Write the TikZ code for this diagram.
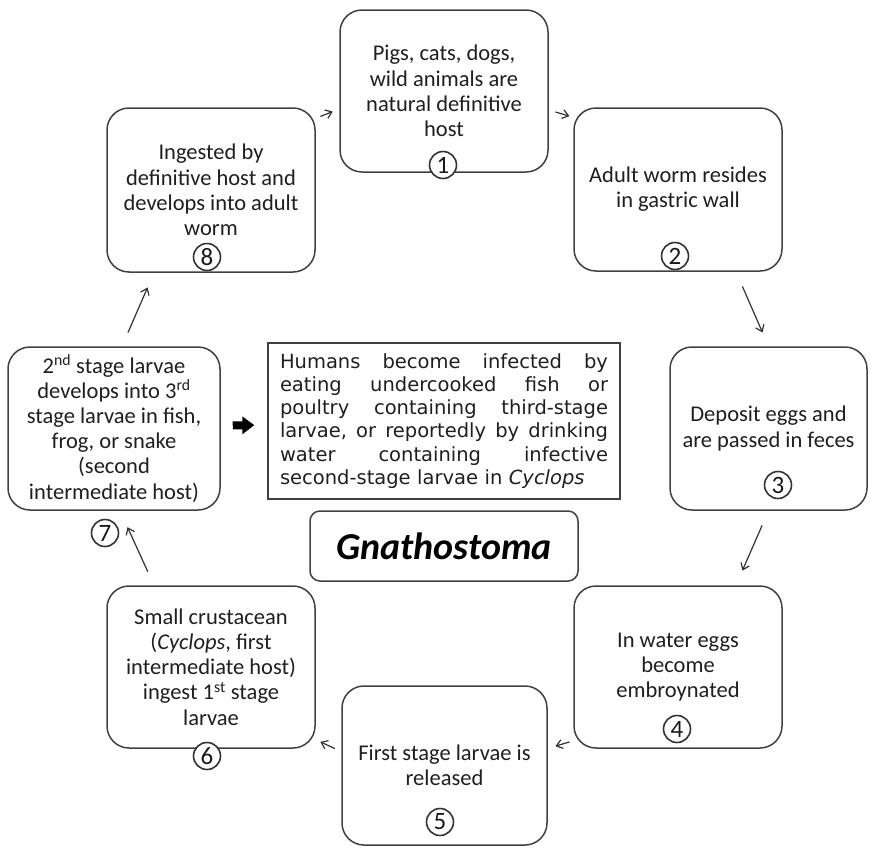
\documentclass[tikz,border=0pt]{standalone}
\usepackage{fontspec}
\setmainfont{Carlito}
\newfontfamily\infofont{DejaVu Sans}
\usepackage{xcolor}
\usetikzlibrary{arrows.meta}
\newcommand{\infoline}[1]{\makebox[328pt][l]{#1}}

\begin{document}
\begin{tikzpicture}[
  x=1pt, y=-1pt,
  stage/.style={draw=black!75, line width=1.5pt, rounded corners=22pt,
                minimum width=208pt, minimum height=162pt, align=center,
                inner sep=2pt, text=black!88, font=\fontsize{22.5}{25.2}\selectfont},
  num/.style={draw=black!80, circle, fill=white, line width=1.6pt,
              minimum size=27pt, inner sep=0pt, text=black!90,
              font=\fontsize{25}{25}\selectfont},
  info/.style={draw=black!75, line width=1.3pt, minimum width=352pt,
               minimum height=156pt, text width=328pt, align=left,
               text=black!88, font=\infofont\fontsize{19.5}{23.2}\selectfont},
  title/.style={draw=black!75, line width=1.5pt, rounded corners=10pt,
                minimum width=268pt, minimum height=70pt, text=black,
                font=\fontsize{38}{40}\selectfont\bfseries\itshape},
  arr/.style={-{Straight Barb[length=6pt,width=9pt]}, line width=1.2pt, draw=black!80},
  fat/.style={-{Triangle[length=12pt,width=17pt]}, line width=8pt},
]
\useasboundingbox (0,0) rectangle (871,847);

\node[stage] (b1) at (444,91) {Pigs, cats, dogs,\\wild animals are\\natural definitive\\host};
\node[stage, minimum height=163pt] (b2) at (678,189.5) {Adult worm resides\\in gastric wall};
\node[stage, minimum width=197pt, minimum height=163pt] (b3) at (768.5,428.5) {Deposit eggs and\\are passed in feces};
\node[stage] (b4) at (678,667) {In water eggs\\become\\embroynated};
\node[stage, minimum width=205pt, minimum height=159pt] (b5) at (444.5,765.5) {First stage larvae is\\released};
\node[stage] (b6) at (211,667) {Small crustacean\\(\textit{Cyclops}, first\\intermediate host)\\ingest 1\textsuperscript{st} stage\\larvae};
\node[stage, minimum width=212pt, minimum height=163pt] (b7) at (114,428.5) {2\textsuperscript{nd} stage larvae\\develops into 3\textsuperscript{rd}\\stage larvae in fish,\\frog, or snake\\(second\\intermediate host)};
\node[stage, minimum height=164pt] (b8) at (211,190) {Ingested by\\definitive host and\\develops into adult\\worm};

\node[num] (n1) at (443,165) {1};
\node[num] (n2) at (675,256) {2};
\node[num] (n3) at (778,485) {3};
\node[num] (n4) at (677,729) {4};
\node[num] (n5) at (440,822) {5};
\node[num] (n6) at (207,756) {6};
\node[num] (n7) at (105,533) {7};
\node[num] (n8) at (207,257) {8};

\node[info] (info) at (444,421) {\infoline{Humans\hfill become\hfill infected\hfill by}\\
  \infoline{eating\hfill undercooked\hfill fish\hfill or}\\
  \infoline{poultry\hfill containing\hfill third-stage}\\
  \infoline{larvae,\hfill or\hfill reportedly\hfill by\hfill drinking}\\
  \infoline{water\hfill containing\hfill infective}\\
  second-stage larvae in \textit{Cyclops}};
\node[title] (title) at (444,546) {Gnathostoma};

\draw[arr, shorten <=5pt, shorten >=7pt] ([yshift=-11pt]b8.north east) -- ([yshift=-18pt]b1.west);
\draw[arr, shorten <=7pt, shorten >=4pt] ([yshift=-19pt]b1.east) -- ([yshift=-10pt]b2.north west);
\draw[arr, shorten <=16pt, shorten >=15pt] ([xshift=58pt]b2.south) -- (b3.north);
\draw[arr, shorten <=16pt, shorten >=16pt] (b3.south) -- ([xshift=58pt]b4.north);
\draw[arr, shorten <=4pt, shorten >=8pt] ([yshift=8pt]b4.south west) -- ([yshift=17pt]b5.east);
\draw[arr, shorten <=7pt, shorten >=5pt] ([yshift=14pt]b5.west) -- ([yshift=9pt]b6.south east);
\draw[arr, shorten <=15pt, shorten >=18pt] ([xshift=-57pt]b6.north) -- ([xshift=6pt]b7.south);
\draw[arr, shorten <=15pt, shorten >=16pt] ([xshift=8pt]b7.north) -- ([xshift=-57pt]b8.south);
\draw[fat, shorten <=12pt, shorten >=13pt] ([yshift=3pt]b7.east) -- ([yshift=-4pt]info.west);
\end{tikzpicture}
\end{document}
